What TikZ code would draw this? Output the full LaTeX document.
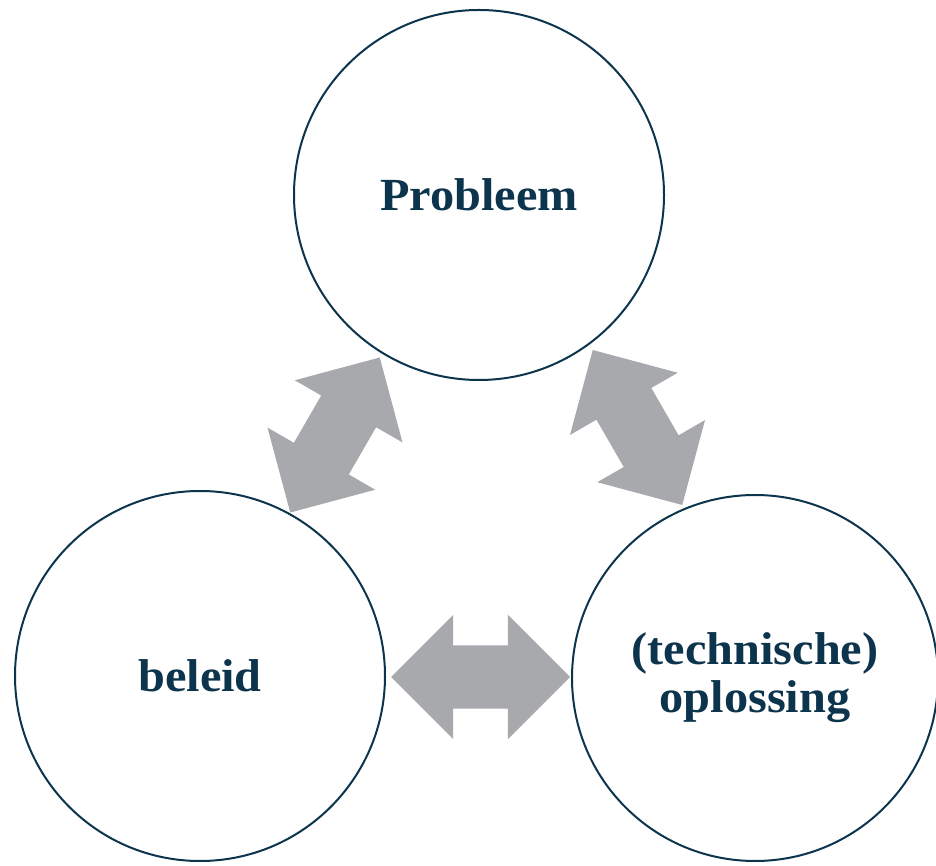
\documentclass[tikz,border=0pt]{standalone}
\usepackage{fontspec}
\setmainfont{Liberation Serif}[FakeStretch=1.05]
\usepackage{xcolor}
\usetikzlibrary{shapes,arrows}
\definecolor{navy}{RGB}{12,52,77}
\definecolor{arrowgrey}{RGB}{167,169,173}

\begin{document}
\begin{tikzpicture}[x=1pt, y=1pt]
    \tikzstyle{bubble} = [circle, draw=navy, line width=2pt, minimum size=370pt,
        inner sep=0pt, text=navy, align=center, font=\fontsize{46}{48}\selectfont\bfseries]
    \tikzstyle{link} = [double arrow, fill=arrowgrey, draw=none, inner xsep=0pt, inner ysep=31.5pt,
        minimum height=179pt, minimum width=124pt, double arrow head extend=30.5pt]

    \useasboundingbox (0,0) rectangle (936,865);

    \node [link, rotate=60] (links) at (335,430) {};
    \node [link, rotate=-60] (rechts) at (637.5,437.5) {};
    \node [link] (onder) at (480.5,188) {};

    \node [bubble] (probleem) at (479,670) {Probleem};
    \node [bubble] (beleid) at (200,189) {beleid};
    \node [bubble, minimum size=366pt] (oplossing) at (755,187) {(technische)\\oplossing};
\end{tikzpicture}
\end{document}
